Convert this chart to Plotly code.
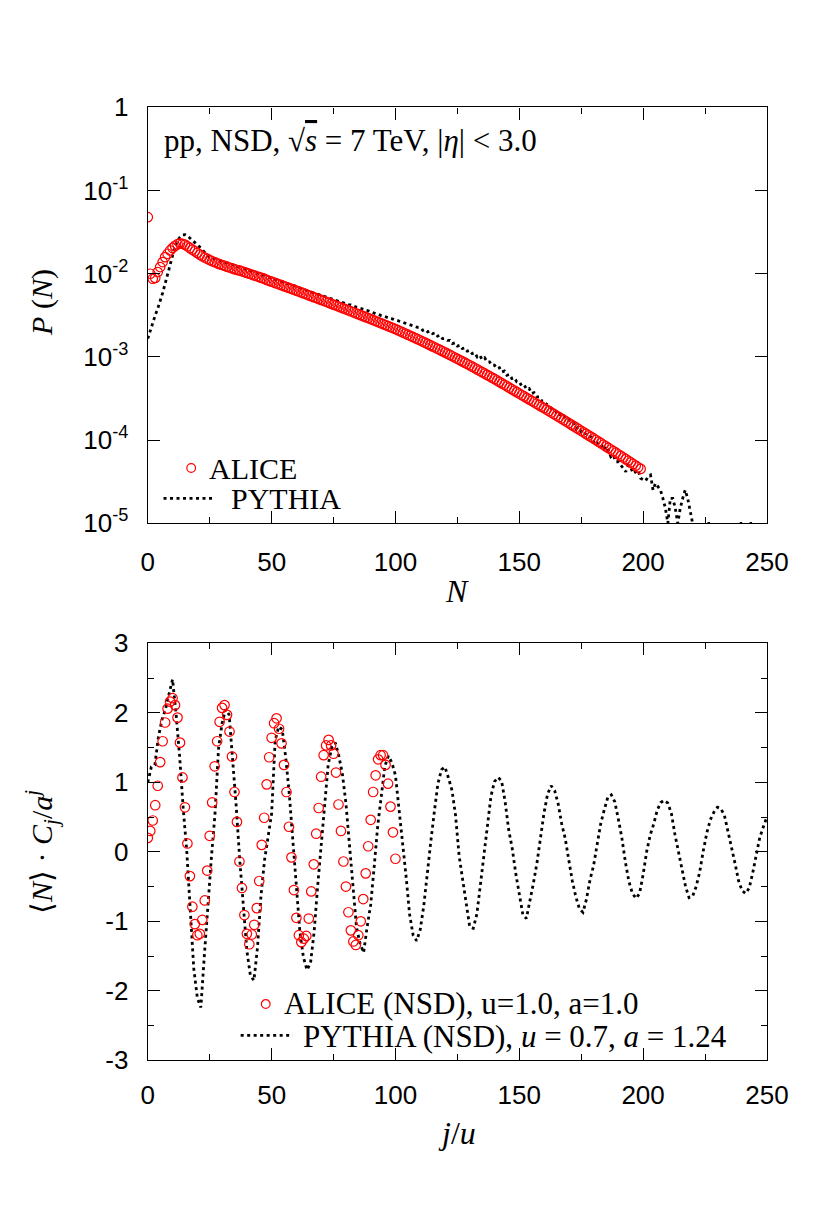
import plotly.graph_objects as go

# ---------------- top panel: multiplicity distribution, log10 P(N) ----------------
alice_logp = [
    -1.32, -2.00, -2.06, -2.05, -1.98, -1.92, -1.86, -1.80, -1.76, -1.72,
    -1.69, -1.665, -1.645, -1.635, -1.64, -1.65, -1.67, -1.69, -1.71, -1.73,
    -1.75, -1.77, -1.79, -1.805, -1.82, -1.835, -1.85, -1.86, -1.875, -1.885,
    -1.895, -1.905, -1.915, -1.925, -1.935, -1.945, -1.955, -1.96, -1.97, -1.98,
    -1.99, -2.00, -2.01, -2.02, -2.03, -2.04, -2.05, -2.06, -2.075, -2.085,
    -2.095, -2.106, -2.117, -2.127, -2.138, -2.149, -2.160, -2.171, -2.181, -2.192,
    -2.203, -2.214, -2.225, -2.236, -2.247, -2.259, -2.270, -2.281, -2.292, -2.303,
    -2.314, -2.325, -2.337, -2.348, -2.360, -2.371, -2.382, -2.394, -2.405, -2.417,
    -2.428, -2.440, -2.451, -2.463, -2.475, -2.486, -2.498, -2.510, -2.522, -2.533,
    -2.545, -2.557, -2.569, -2.581, -2.593, -2.605, -2.617, -2.629, -2.641, -2.653,
    -2.665, -2.679, -2.692, -2.706, -2.719, -2.733, -2.746, -2.760, -2.773, -2.787,
    -2.800, -2.815, -2.829, -2.844, -2.858, -2.873, -2.887, -2.902, -2.916, -2.931,
    -2.945, -2.961, -2.976, -2.992, -3.007, -3.023, -3.038, -3.054, -3.069, -3.085,
    -3.100, -3.117, -3.133, -3.150, -3.166, -3.183, -3.199, -3.216, -3.232, -3.249,
    -3.265, -3.283, -3.300, -3.318, -3.335, -3.353, -3.370, -3.388, -3.405, -3.423,
    -3.440, -3.458, -3.475, -3.493, -3.510, -3.528, -3.545, -3.563, -3.580, -3.598,
    -3.615, -3.633, -3.651, -3.669, -3.687, -3.705, -3.723, -3.741, -3.759, -3.777,
    -3.795, -3.814, -3.832, -3.851, -3.869, -3.888, -3.906, -3.925, -3.943, -3.962,
    -3.980, -3.999, -4.018, -4.037, -4.056, -4.075, -4.094, -4.113, -4.132, -4.151,
    -4.170, -4.190, -4.209, -4.229, -4.248, -4.268, -4.287, -4.307, -4.326, -4.346,
]

# None = no events in that bin (gap in the line)
pythia_logp = [
    -2.78, -2.68, -2.58, -2.50, -2.42, -2.33, -2.23, -2.12, -2.00, -1.88,
    -1.77, -1.67, -1.60, -1.56, -1.535, -1.53, -1.545, -1.57, -1.595, -1.62,
    -1.65, -1.68, -1.71, -1.745, -1.78, -1.80, -1.815, -1.825, -1.835, -1.843,
    -1.85, -1.86, -1.87, -1.88, -1.89, -1.90, -1.91, -1.915, -1.925, -1.935,
    -1.945, -1.955, -1.965, -1.975, -1.985, -1.995, -2.005, -2.015, -2.03, -2.04,
    -2.05, -2.06, -2.07, -2.08, -2.09, -2.10, -2.11, -2.125, -2.135, -2.145,
    -2.155, -2.165, -2.18, -2.19, -2.20, -2.21, -2.22, -2.23, -2.24, -2.25,
    -2.265, -2.27, -2.285, -2.29, -2.305, -2.315, -2.32, -2.335, -2.345, -2.35,
    -2.36, -2.37, -2.375, -2.39, -2.40, -2.405, -2.42, -2.425, -2.44, -2.445,
    -2.46, -2.465, -2.48, -2.485, -2.50, -2.505, -2.52, -2.525, -2.54, -2.545,
    -2.56, -2.565, -2.575, -2.59, -2.595, -2.61, -2.615, -2.63, -2.64, -2.645,
    -2.65, -2.68, -2.67, -2.70, -2.69, -2.72, -2.71, -2.75, -2.74, -2.78,
    -2.78, -2.80, -2.80, -2.84, -2.83, -2.87, -2.86, -2.90, -2.89, -2.93,
    -2.92, -2.96, -2.95, -3.00, -2.98, -3.03, -3.01, -3.06, -3.06, -3.10,
    -3.10, -3.14, -3.13, -3.18, -3.17, -3.22, -3.21, -3.26, -3.25, -3.30,
    -3.30, -3.35, -3.34, -3.39, -3.38, -3.44, -3.43, -3.48, -3.48, -3.53,
    -3.53, -3.57, -3.58, -3.62, -3.62, -3.67, -3.66, -3.72, -3.71, -3.76,
    -3.76, -3.80, -3.80, -3.86, -3.84, -3.90, -3.89, -3.94, -3.96, -3.96,
    -4.02, -4.00, -4.07, -4.08, -4.05, -4.14, -4.12, -4.20, -4.18, -4.26,
    -4.26, -4.30, -4.35, -4.38, -4.30, -4.33, -4.40, -4.38, -4.36, -4.46,
    -4.48, -4.49, -4.44, -4.42, -4.60, -4.52, -4.56, -4.60, -4.70, -4.82,
    -5.00, -4.70, -4.70, -4.82, -5.00, -4.82, -4.70, -4.60, -4.70, -4.85,
    -5.00, None, None, None, None, None, -5.00, -5.00, None, None,
    None, None, None, None, None, None, None, None, None, -5.00,
    -5.00, None, None, -5.00, -5.00, None,
]

# ---------------- bottom panel: <N> C_j / a^j ----------------
alice_u = 1.0
pythia_u = 0.7

alice_cj = [
    0.20, 0.30, 0.45, 0.67, 0.95, 1.29, 1.59, 1.86, 2.06, 2.16,
    2.21, 2.11, 1.93, 1.57, 1.07, 0.64, 0.12, -0.35, -0.79, -1.04,
    -1.20, -1.18, -0.98, -0.70, -0.27, 0.23, 0.71, 1.23, 1.59, 1.87,
    2.07, 2.11, 1.97, 1.73, 1.37, 0.86, 0.43, -0.14, -0.52, -0.91,
    -1.18, -1.33, -1.19, -1.05, -0.81, -0.42, 0.10, 0.49, 0.97, 1.36,
    1.64, 1.85, 1.92, 1.77, 1.56, 1.25, 0.86, 0.36, -0.08, -0.55,
    -0.95, -1.20, -1.30, -1.25, -1.21, -0.96, -0.57, -0.18, 0.26, 0.63,
    1.08, 1.39, 1.53, 1.61, 1.53, 1.41, 1.14, 0.68, 0.30, -0.14,
    -0.50, -0.87, -1.13, -1.29, -1.34, -1.20, -1.00, -0.68, -0.31, 0.08,
    0.46, 0.86, 1.10, 1.33, 1.39, 1.39, 1.25, 0.98, 0.65, 0.28,
    -0.10,
]

pythia_cj = [
    1.00, 1.22, 1.25, 1.65, 1.90, 2.05, 2.27, 2.48, 1.98, 1.37,
    0.63, 0.02, -0.83, -1.68, -2.10, -2.24, -1.48, -0.75, -0.07, 0.55,
    1.49, 1.85, 2.05, 1.97, 1.33, 0.65, -0.12, -0.78, -1.42, -1.78,
    -1.85, -1.38, -0.63, -0.12, 0.21, 0.55, 1.60, 1.80, 1.76, 1.35,
    0.83, 0.15, -0.58, -1.16, -1.52, -1.70, -1.60, -1.16, -0.50, 0.13,
    0.68, 1.26, 1.50, 1.57, 1.38, 1.12, 0.70, 0.09, -0.52, -1.09,
    -1.32, -1.45, -1.08, -0.76, -0.21, 0.38, 0.80, 1.23, 1.38, 1.28,
    1.10, 0.64, 0.12, -0.35, -0.90, -1.20, -1.28, -1.12, -0.78, -0.29,
    0.15, 0.58, 0.98, 1.18, 1.22, 1.06, 0.88, 0.52, -0.06, -0.40,
    -0.72, -1.08, -1.10, -0.90, -0.48, -0.03, 0.42, 0.80, 1.01, 1.07,
    1.02, 0.72, 0.32, 0.05, -0.31, -0.62, -0.90, -0.96, -0.72, -0.45,
    -0.16, 0.19, 0.56, 0.83, 0.95, 0.88, 0.69, 0.40, 0.19, -0.12,
    -0.42, -0.65, -0.82, -0.87, -0.68, -0.40, -0.20, 0.10, 0.40, 0.60,
    0.78, 0.82, 0.72, 0.47, 0.20, -0.15, -0.43, -0.60, -0.67, -0.60,
    -0.33, 0.00, 0.24, 0.40, 0.60, 0.71, 0.74, 0.70, 0.55, 0.25,
    -0.01, -0.25, -0.50, -0.66, -0.64, -0.50, -0.29, 0.01, 0.27, 0.46,
    0.57, 0.64, 0.62, 0.52, 0.30, 0.08, -0.17, -0.42, -0.56, -0.60,
    -0.52, -0.30, -0.03, 0.21, 0.36, 0.50,
]

x_ticks = [0, 50, 100, 150, 200, 250]
logy_ticks = [1e-5, 1e-4, 1e-3, 1e-2, 1e-1, 1]
logy_labels = ["10<sup>-5</sup>", "10<sup>-4</sup>", "10<sup>-3</sup>",
               "10<sup>-2</sup>", "10<sup>-1</sup>", "1"]
liny_ticks = [-3, -2, -1, 0, 1, 2, 3]
liny_labels = ["-3", "-2", "-1", "0", "1", "2", "3"]

# derived series
alice_n = list(range(len(alice_logp)))
alice_p = [10 ** v for v in alice_logp]
pythia_n = list(range(len(pythia_logp)))
pythia_p = [None if v is None else 10 ** v for v in pythia_logp]
alice_x = [j / alice_u for j in range(len(alice_cj))]
pythia_x = [j / pythia_u for j in range(len(pythia_cj))]

# page is 830x1227, the plot div sits inside the default 8px body margin
PAGE_OFF = 8
W, H = 830 - 2 * PAGE_OFF, 1227 - 2 * PAGE_OFF
SERIF = "Liberation Serif, Times New Roman, serif"
SANS = "Liberation Sans, Arial, Helvetica, sans-serif"
RED = "#ff0000"
DOT = "3px,3.5px"
CIRCLE = 9.5


def fx(p):
    # page pixel -> paper fraction
    return (p - PAGE_OFF) / W


def fy(p):
    return 1 - (p - PAGE_OFF) / H


fig = go.Figure()

fig.add_trace(go.Scatter(
    x=pythia_n, y=pythia_p, mode="lines", xaxis="x", yaxis="y",
    line=dict(color="black", width=2.8, dash=DOT), connectgaps=False,
))
fig.add_trace(go.Scatter(
    x=alice_n, y=alice_p, mode="markers", xaxis="x", yaxis="y",
    marker=dict(symbol="circle-open", size=CIRCLE, color=RED, line=dict(width=1.2, color=RED)),
))
fig.add_trace(go.Scatter(
    x=pythia_x, y=pythia_cj, mode="lines", xaxis="x2", yaxis="y2",
    line=dict(color="black", width=2.8, dash=DOT),
))
fig.add_trace(go.Scatter(
    x=alice_x, y=alice_cj, mode="markers", xaxis="x2", yaxis="y2",
    marker=dict(symbol="circle-open", size=CIRCLE, color=RED, line=dict(width=1.2, color=RED)),
))

axis_common = dict(
    showline=True, linecolor="black", linewidth=1.3, mirror="ticks",
    ticks="inside", ticklen=12, tickwidth=1.3, tickcolor="black",
    showgrid=False, zeroline=False, ticklabelstandoff=13,
    tickfont=dict(family=SANS, size=26, color="black"),
)
x_common = dict(
    axis_common, range=[0, 250], tickvals=x_ticks,
    minor=dict(dtick=25, ticks="inside", ticklen=6, tickwidth=1.3, tickcolor="black"),
    domain=[fx(145.7), fx(787.7)],
)

fig.update_layout(
    width=W, height=H,
    margin=dict(l=0, r=0, t=0, b=0),
    paper_bgcolor="white", plot_bgcolor="white",
    showlegend=False,
    xaxis=dict(x_common, anchor="y", ticklabelstandoff=15),
    yaxis=dict(axis_common, type="log", range=[-5, 0], tickvals=logy_ticks,
               ticktext=logy_labels, anchor="x", domain=[fy(521), fy(94.5)]),
    xaxis2=dict(x_common, anchor="y2", ticklabelstandoff=11),
    yaxis2=dict(axis_common, range=[-3, 3], tickvals=liny_ticks, ticktext=liny_labels,
                minor=dict(dtick=0.5, ticks="inside", ticklen=6, tickwidth=1.3, tickcolor="black"),
                anchor="x2", domain=[fy(1071.7), fy(644)]),
)

serif_font = dict(family=SERIF, size=30, color="black")


def note(text, x, y, size=30, anchor="left", angle=0):
    fig.add_annotation(text=text, x=fx(x), y=fy(y), xref="paper", yref="paper",
                       xanchor=anchor, yanchor="middle", showarrow=False, textangle=angle,
                       borderpad=0, font=dict(serif_font, size=size))


# axis titles
note("<i>N</i>", 466, 590, size=32, anchor="center")
note("<i>j</i>/<i>u</i>", 466, 1146, size=32, anchor="center")
note("<i>P</i> (<i>N</i>)", 36, 295, size=30, anchor="center", angle=-90)
note("⟨<i>N</i>⟩ · <i>C<sub>j</sub></i>/<i>a<sup>j</sup></i>", 36, 858, size=30,
     anchor="center", angle=-90)

# top panel label
note("pp, NSD, √<span style=\"text-decoration:overline\"><i>s</i></span> = 7 TeV, "
     "|<i>η</i>| &lt; 3.0", 161, 128, size=31)

# top legend
note("ALICE", 208, 465, size=30)
note("PYTHIA", 231, 496, size=30)
fig.add_shape(type="circle", xref="paper", yref="paper",
              x0=fx(190.7 - 4.5), x1=fx(190.7 + 4.5), y0=fy(464.3 + 4.5), y1=fy(464.3 - 4.5),
              line=dict(color=RED, width=1.2))
fig.add_shape(type="line", xref="paper", yref="paper",
              x0=fx(162), x1=fx(215), y0=fy(495.5), y1=fy(495.5),
              line=dict(color="black", width=2.8, dash=DOT))

# bottom legend
note("ALICE (NSD), u=1.0, a=1.0", 286, 1013, size=31)
note("PYTHIA (NSD), <i>u</i> = 0.7, <i>a</i> = 1.24", 306, 1047, size=31)
fig.add_shape(type="circle", xref="paper", yref="paper",
              x0=fx(268 - 4.5), x1=fx(268 + 4.5), y0=fy(1014 + 4.5), y1=fy(1014 - 4.5),
              line=dict(color=RED, width=1.2))
fig.add_shape(type="line", xref="paper", yref="paper",
              x0=fx(242), x1=fx(296), y0=fy(1046), y1=fy(1046),
              line=dict(color="black", width=2.8, dash=DOT))

fig.write_html("out.html")
